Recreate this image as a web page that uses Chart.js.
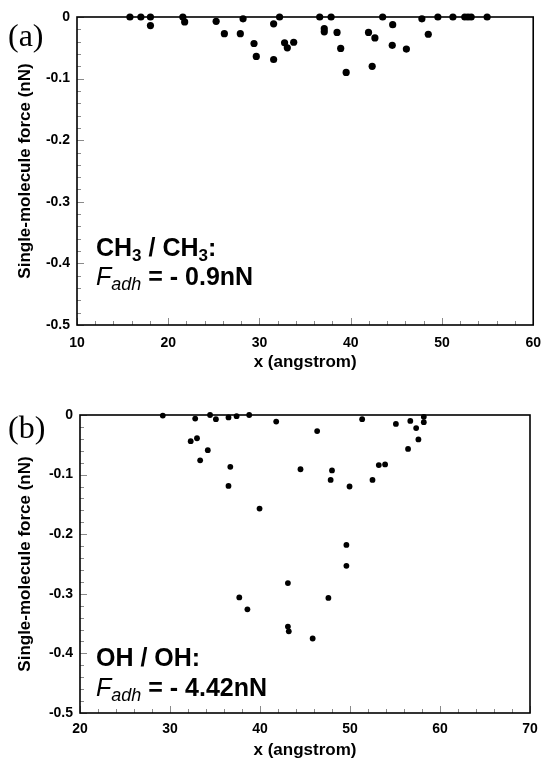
<!DOCTYPE html>
<html>
<head>
<meta charset="utf-8">
<script src="https://cdn.jsdelivr.net/npm/chart.js@4.4.0/dist/chart.umd.min.js"></script>
<style>
  html, body { margin: 0; padding: 0; background: #fff; }
  body { width: 551px; height: 761px; position: relative; overflow: hidden; }
  canvas { position: absolute; left: 0; }
  #chartA { top: 0; }
  #chartB { top: 375px; }
</style>
</head>
<body>
<canvas id="chartA" width="551" height="375"></canvas>
<canvas id="chartB" width="551" height="386"></canvas>
<script>
// (a) CH3 / CH3 - position (angstrom) and single-molecule force (nN)
const xA = [15.8, 17.0, 18.05, 18.05, 21.6, 21.8, 25.25, 26.15, 27.9, 28.2,
            29.4, 29.65, 31.55, 31.55, 32.2, 32.75, 33.05, 33.75, 36.6, 37.85,
            37.1, 37.1, 38.5, 38.9, 39.5, 41.95, 42.65, 42.35, 43.5, 44.6,
            44.55, 46.1, 47.8, 48.5, 49.55, 51.2, 52.5, 52.85, 53.2, 54.95];
const yA = [0, 0, 0, -0.014, 0, -0.008, -0.007, -0.027, -0.027, -0.003,
            -0.043, -0.064, -0.069, -0.011, 0, -0.042, -0.050, -0.041, 0, 0,
            -0.019, -0.024, -0.025, -0.051, -0.090, -0.025, -0.034, -0.080, 0, -0.0125,
            -0.046, -0.052, -0.003, -0.028, 0, 0, 0, 0, 0, 0];

// (b) OH / OH
const xB = [29.2, 32.8, 34.45, 35.1, 36.5, 37.4, 38.8, 41.8, 46.35, 32.3,
            33.0, 34.2, 33.35, 36.7, 36.5, 44.5, 39.95, 51.35, 55.1, 56.7,
            57.35, 57.6, 56.45, 58.2, 58.2, 53.2, 53.9, 48.0, 47.85, 52.5,
            49.95, 49.6, 49.6, 43.1, 37.7, 38.6, 47.6, 43.1, 43.2, 45.85];
const yB = [-0.001, -0.006, 0, -0.007, -0.004, -0.002, 0, -0.011, -0.027, -0.044,
            -0.039, -0.059, -0.076, -0.087, -0.119, -0.091, -0.157, -0.007, -0.015, -0.010,
            -0.022, -0.041, -0.057, -0.003, -0.012, -0.084, -0.083, -0.093, -0.109, -0.109,
            -0.120, -0.218, -0.253, -0.282, -0.306, -0.326, -0.307, -0.355, -0.363, -0.375];

const xTicksA = [10, 20, 30, 40, 50, 60];
const xTicksB = [20, 30, 40, 50, 60, 70];
const yTicks = [0, -0.1, -0.2, -0.3, -0.4, -0.5];
const yTickLabels = ['0', '-0.1', '-0.2', '-0.3', '-0.4', '-0.5'];

const SANS = '"Liberation Sans", Arial, sans-serif';
const SERIF = '"Liberation Serif", "Times New Roman", serif';

// writes a line made of several font runs (for subscripts)
function drawRuns(ctx, x, y, runs) {
  runs.forEach(r => {
    ctx.font = r.font;
    ctx.fillText(r.text, x, y + (r.dy || 0));
    x += ctx.measureText(r.text).width;
  });
}

function framePlugin(cfg) {
  return {
    id: 'frame',
    beforeDatasetsDraw(chart) {
      const { ctx, chartArea: a, scales: { x, y } } = chart;
      ctx.save();
      // small inside ticks
      ctx.strokeStyle = '#8a8a8a';
      ctx.lineWidth = 1;
      ctx.beginPath();
      for (let v = x.min; v <= x.max + 1e-6; v += 2) {
        const px = Math.round(x.getPixelForValue(v)) + 0.5;
        const len = (Math.round(v) % 10 === 0) ? 7 : 4;
        ctx.moveTo(px, a.bottom);
        ctx.lineTo(px, a.bottom - len);
      }
      for (let k = 0; k <= 25; k++) {
        const py = Math.round(y.getPixelForValue(-k * 0.02)) + 0.5;
        const len = (k % 5 === 0) ? 7 : 4;
        ctx.moveTo(a.left, py);
        ctx.lineTo(a.left + len, py);
      }
      ctx.stroke();
      // box
      ctx.strokeStyle = '#000';
      ctx.lineWidth = 1.6;
      ctx.strokeRect(a.left, a.top, a.right - a.left, a.bottom - a.top);
      ctx.restore();
    },
    afterDraw(chart) {
      const ctx = chart.ctx;
      ctx.save();
      ctx.fillStyle = '#000';
      ctx.textBaseline = 'alphabetic';
      ctx.textAlign = 'left';
      ctx.font = '32px ' + SERIF;
      ctx.fillText(cfg.panel, 8, cfg.panelY);
      drawRuns(ctx, 96, cfg.line1Y, cfg.line1);
      drawRuns(ctx, 96, cfg.line2Y, cfg.line2);
      ctx.restore();
    }
  };
}

function makeChart(id, xs, ys, xTicks, cfg) {
  const pts = xs.map((v, i) => ({ x: v, y: ys[i] }));
  return new Chart(document.getElementById(id).getContext('2d'), {
    type: 'scatter',
    data: {
      datasets: [{
        data: pts,
        backgroundColor: '#000',
        borderColor: '#000',
        borderWidth: 0,
        pointRadius: cfg.r,
        pointHoverRadius: cfg.r,
        clip: false
      }]
    },
    options: {
      responsive: false,
      animation: false,
      devicePixelRatio: 1,
      layout: { padding: { top: cfg.top, right: cfg.right, left: 0, bottom: 0 } },
      plugins: { legend: { display: false }, tooltip: { enabled: false } },
      scales: {
        x: {
          type: 'linear',
          min: xTicks[0],
          max: xTicks[xTicks.length - 1],
          afterBuildTicks: s => { s.ticks = xTicks.map(v => ({ value: v })); },
          afterFit: s => { s.height = cfg.xh; },
          grid: { display: false, drawTicks: false },
          border: { display: false },
          ticks: {
            color: '#000', autoSkip: false, maxRotation: 0, padding: cfg.xpad,
            font: { family: SANS, size: 14, weight: 'bold' }
          },
          title: {
            display: true, text: 'x (angstrom)', color: '#000', padding: cfg.xtpad,
            font: { family: SANS, size: 17, weight: 'bold' }
          }
        },
        y: {
          type: 'linear',
          min: -0.5,
          max: 0,
          afterBuildTicks: s => { s.ticks = yTicks.map(v => ({ value: v })); },
          afterFit: s => { s.width = cfg.yw; },
          grid: { display: false, drawTicks: false },
          border: { display: false },
          ticks: {
            color: '#000', padding: 7,
            font: { family: SANS, size: 14, weight: 'bold' },
            callback: (v, i) => yTickLabels[i]
          },
          title: {
            display: true, text: 'Single-molecule force (nN)', color: '#000', padding: 15,
            font: { family: SANS, size: 17, weight: 'bold' }
          }
        }
      }
    },
    plugins: [framePlugin(cfg)]
  });
}

const B25 = 'bold 25px ' + SANS;
const B17 = 'bold 17px ' + SANS;
const I25 = 'italic 25px ' + SANS;
const I18 = 'italic 18px ' + SANS;

makeChart('chartA', xA, yA, xTicksA, {
  r: 3.6, top: 17, right: 8, yw: 77, xh: 50, xpad: 10, xtpad: 2,
  panel: '(a)', panelY: 46,
  line1Y: 256, line2Y: 285,
  line1: [{ text: 'CH', font: B25 }, { text: '3', font: B17, dy: 5 }, { text: ' / CH', font: B25 },
          { text: '3', font: B17, dy: 5 }, { text: ':', font: B25 }],
  line2: [{ text: 'F', font: I25 }, { text: 'adh', font: I18, dy: 5 }, { text: ' = - 0.9nN', font: B25 }]
});

makeChart('chartB', xB, yB, xTicksB, {
  r: 2.9, top: 40, right: 21, yw: 80, xh: 48, xpad: 8, xtpad: 0,
  panel: '(b)', panelY: 63,
  line1Y: 291, line2Y: 321,
  line1: [{ text: 'OH / OH:', font: B25 }],
  line2: [{ text: 'F', font: I25 }, { text: 'adh', font: I18, dy: 5 }, { text: ' = - 4.42nN', font: B25 }]
});
</script>
</body>
</html>
